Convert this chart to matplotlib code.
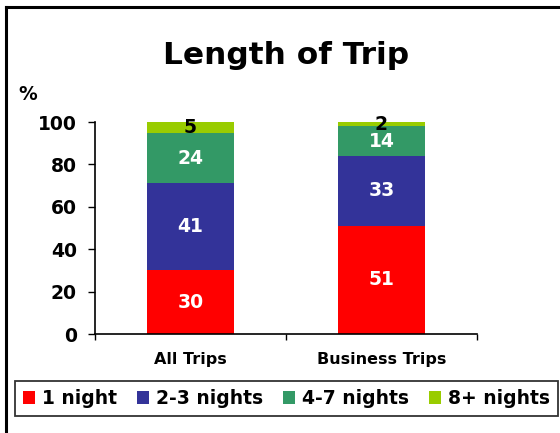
import matplotlib
matplotlib.use("Agg")
import matplotlib.pyplot as plt
from matplotlib.lines import Line2D
import numpy as np

# Length of stay shares (%) by trip type
categories = ["All Trips", "Business Trips"]
series_names = ["1 night", "2-3 nights", "4-7 nights", "8+ nights"]
one_night = [30, 51]
two_three = [41, 33]
four_seven = [24, 14]
eight_plus = [5, 2]
yticks = [0, 20, 40, 60, 80, 100]

colors = ["#FF0000", "#333399", "#339966", "#99CC00"]
label_colors = ["white", "white", "white", "black"]

plt.rcParams['font.family'] = ['DejaVu Sans']
plt.rcParams['font.weight'] = 'bold'

W, H = 560, 433
fig = plt.figure(figsize=(W / 100, H / 100), dpi=100)
fig.patch.set_facecolor('white')

ax = fig.add_axes([95 / W, 1 - 334 / H, 382 / W, 212 / H])

x = np.arange(len(categories))
bottom = np.zeros(len(categories))
for vals, name, col, lc in zip([one_night, two_three, four_seven, eight_plus],
                               series_names, colors, label_colors):
    vals = np.array(vals, dtype=float)
    ax.bar(x, vals, width=0.46, bottom=bottom, color=col, label=name, edgecolor='none')
    for xi, b, v in zip(x, bottom, vals):
        ax.text(xi, b + v / 2, f"{int(v)}", ha='center', va='center',
                color=lc, fontsize=13.5, fontweight='bold')
    bottom += vals

ax.set_xlim(-0.5, 1.5)
ax.set_ylim(0, 100)
ax.set_yticks(yticks)
ax.set_yticklabels([str(t) for t in yticks], fontsize=13.5, fontweight='bold')
ax.set_xticks(x)
ax.set_xticklabels(categories, fontsize=11.5, fontweight='bold')
ax.set_xticks([-0.5, 0.5, 1.5], minor=True)
ax.tick_params(axis='x', which='major', length=0, pad=13)
ax.tick_params(axis='x', which='minor', length=4, width=1, direction='out')
ax.tick_params(axis='y', length=5, width=1, direction='out', pad=8)

for side in ['top', 'right']:
    ax.spines[side].set_visible(False)
for side in ['left', 'bottom']:
    ax.spines[side].set_linewidth(1.2)
    ax.spines[side].set_color('black')

fig.text(286 / W, 1 - 64 / H, "Length of Trip", ha='center', va='baseline',
         fontsize=22.5, fontweight='bold')
fig.text(18 / W, 1 - 94 / H, "%", ha='left', va='center',
         fontsize=13.5, fontweight='bold')

leg = fig.legend(loc='center', bbox_to_anchor=(286.5 / W, 1 - 398.5 / H), ncol=4,
                 frameon=True, fancybox=False, fontsize=13.5,
                 handlelength=0.65, handleheight=0.65, handletextpad=0.35,
                 columnspacing=1.08, borderpad=0.45, borderaxespad=0)
leg.get_frame().set_edgecolor('black')
leg.get_frame().set_linewidth(1.3)
for t in leg.get_texts():
    t.set_fontweight('bold')

# outer chart frame, left and top edges
fig.add_artist(Line2D([6 / W, 6 / W], [0, 1 - 7 / H], transform=fig.transFigure,
                      color='black', lw=2.2))
fig.add_artist(Line2D([6 / W, 1], [1 - 7 / H, 1 - 7 / H], transform=fig.transFigure,
                      color='black', lw=2.2))

fig.savefig("out.png", dpi=100, facecolor='white')
